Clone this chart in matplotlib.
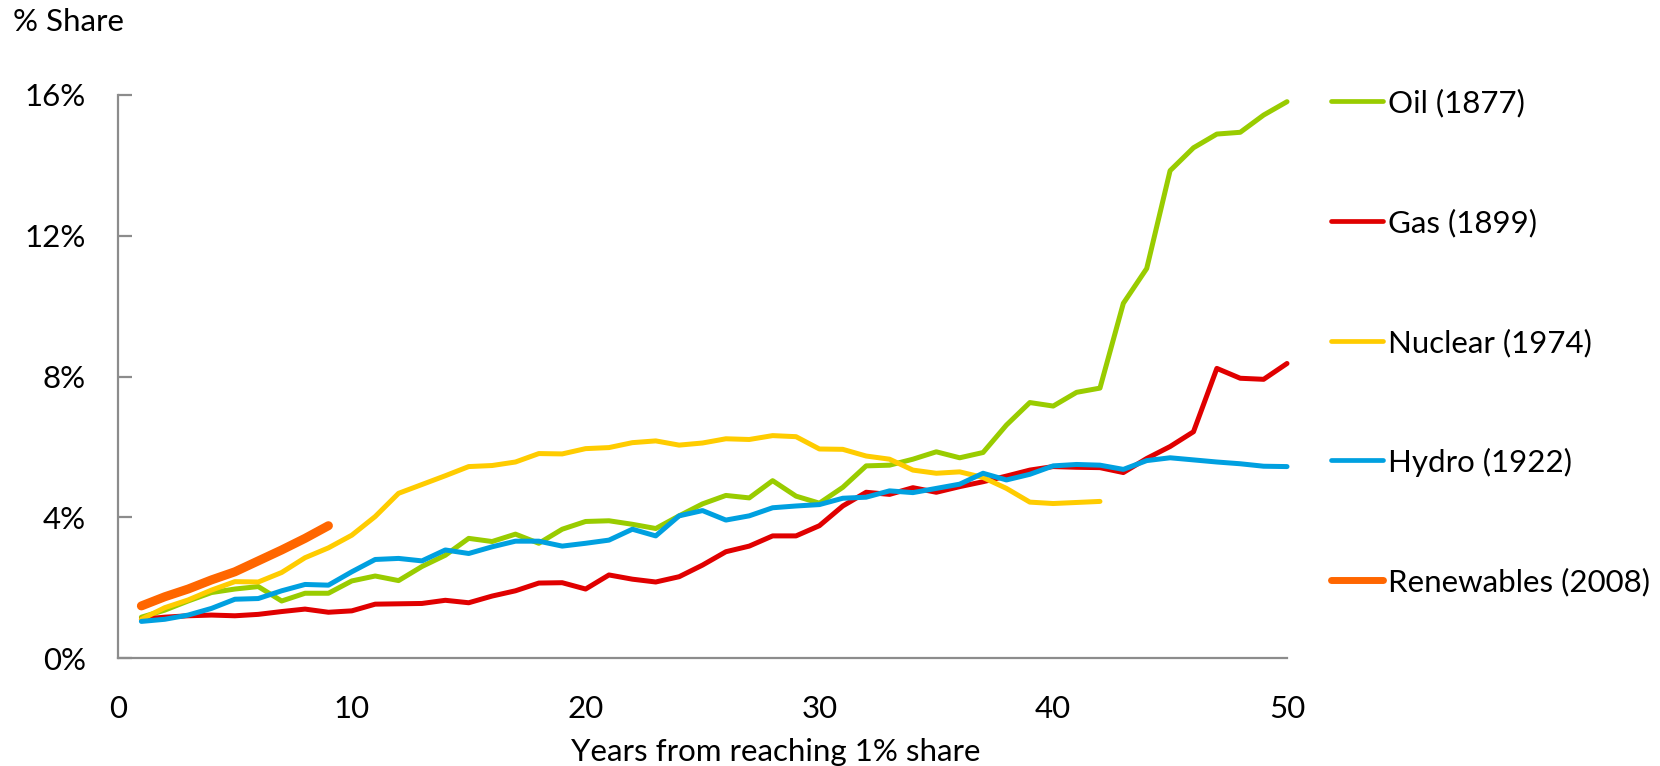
import matplotlib
matplotlib.use("Agg")
import matplotlib.pyplot as plt
from matplotlib.lines import Line2D

plt.rcParams['font.family'] = ['Lato', 'DejaVu Sans']

years = list(range(1, 51))

oil = [1.16, 1.36, 1.62, 1.86, 1.96, 2.03, 1.62, 1.84, 1.84, 2.19,
       2.33, 2.20, 2.60, 2.92, 3.40, 3.31, 3.52, 3.26, 3.66, 3.88,
       3.90, 3.80, 3.68, 4.04, 4.38, 4.62, 4.55, 5.04, 4.60, 4.40,
       4.85, 5.46, 5.48, 5.65, 5.86, 5.69, 5.84, 6.62, 7.26, 7.16,
       7.55, 7.67, 10.08, 11.07, 13.85, 14.50, 14.89, 14.94, 15.43, 15.81]
gas = [1.10, 1.16, 1.20, 1.22, 1.20, 1.24, 1.32, 1.39, 1.30, 1.34,
       1.53, 1.54, 1.55, 1.64, 1.57, 1.76, 1.91, 2.13, 2.14, 1.96,
       2.36, 2.24, 2.16, 2.31, 2.64, 3.02, 3.18, 3.47, 3.47, 3.76,
       4.32, 4.71, 4.65, 4.84, 4.71, 4.87, 5.01, 5.17, 5.34, 5.44,
       5.42, 5.41, 5.27, 5.67, 6.01, 6.43, 8.23, 7.95, 7.92, 8.37]
nuclear = [1.10, 1.43, 1.65, 1.93, 2.17, 2.16, 2.43, 2.85, 3.13, 3.49,
           4.02, 4.68, 4.93, 5.18, 5.44, 5.47, 5.57, 5.81, 5.80, 5.95,
           5.98, 6.12, 6.17, 6.05, 6.11, 6.23, 6.21, 6.32, 6.29, 5.94,
           5.93, 5.74, 5.65, 5.34, 5.25, 5.29, 5.13, 4.82, 4.43, 4.39,
           4.42, 4.45]
hydro = [1.04, 1.10, 1.22, 1.41, 1.67, 1.69, 1.91, 2.09, 2.07, 2.45,
         2.80, 2.83, 2.76, 3.07, 2.97, 3.16, 3.32, 3.32, 3.18, 3.26,
         3.35, 3.66, 3.47, 4.04, 4.19, 3.92, 4.04, 4.27, 4.32, 4.36,
         4.54, 4.57, 4.75, 4.70, 4.82, 4.94, 5.25, 5.06, 5.22, 5.46,
         5.50, 5.48, 5.36, 5.61, 5.69, 5.63, 5.57, 5.52, 5.45, 5.44]
renewables = [1.48, 1.74, 1.96, 2.22, 2.45, 2.76, 3.07, 3.40, 3.76]

labels = ["Oil (1877)", "Gas (1899)", "Nuclear (1974)", "Hydro (1922)", "Renewables (2008)"]
colors = ["#99CC00", "#E00000", "#FFCC00", "#00A0E0", "#FF6600"]
series = [oil, gas, nuclear, hydro, renewables]
widths = [3.6, 3.6, 3.6, 3.6, 6.5]

yticks = [0, 4, 8, 12, 16]
ytick_labels = ["0%", "4%", "8%", "12%", "16%"]
xticks = [0, 10, 20, 30, 40, 50]

FS = 22.5
W, H = 1660, 766
fig = plt.figure(figsize=(W / 100, H / 100), dpi=100)
ax = fig.add_axes([118 / W, (H - 658) / H, (1287 - 118) / W, (658 - 95) / H])

for s, c, lw, lab in zip(series, colors, widths, labels):
    ax.plot(years[:len(s)], s, color=c, lw=lw, solid_capstyle='round',
            solid_joinstyle='round', label=lab, clip_on=False)

ax.set_xlim(0, 50)
ax.set_ylim(0, 16)
ax.set_xticks(xticks)
ax.set_yticks(yticks)
ax.set_yticklabels(ytick_labels)
for sp in ['top', 'right']:
    ax.spines[sp].set_visible(False)
for sp in ['left', 'bottom']:
    ax.spines[sp].set_color('#8C8C8C')
    ax.spines[sp].set_linewidth(1.6)
ax.tick_params(axis='y', direction='in', length=10, width=1.6, color='#8C8C8C',
               labelsize=FS, pad=23)
ax.tick_params(axis='x', length=0, labelsize=FS, pad=27)
for t in ax.get_yticklabels() + ax.get_xticklabels():
    t.set_color('black')

fig.text(571 / W, 1 - 752 / H, "Years from reaching 1% share", fontsize=FS,
         ha='left', va='center')
fig.text(13 / W, 1 - 22 / H, "% Share", fontsize=FS, ha='left', va='center')

# legend entries placed at the reference's positions (pixels)
leg_y = [101, 221, 341, 460, 580]
for i, (lab, c, y) in enumerate(zip(labels, colors, leg_y)):
    fig.add_artist(Line2D([1331 / W, 1383 / W], [1 - y / H, 1 - y / H],
                          color=c, lw=(5.0 if i == 4 else 3.4),
                          solid_capstyle='round', transform=fig.transFigure))
    fig.text(1388 / W, 1 - y / H, lab, fontsize=FS, ha='left', va='center_baseline')

fig.savefig("out.png", dpi=100)
